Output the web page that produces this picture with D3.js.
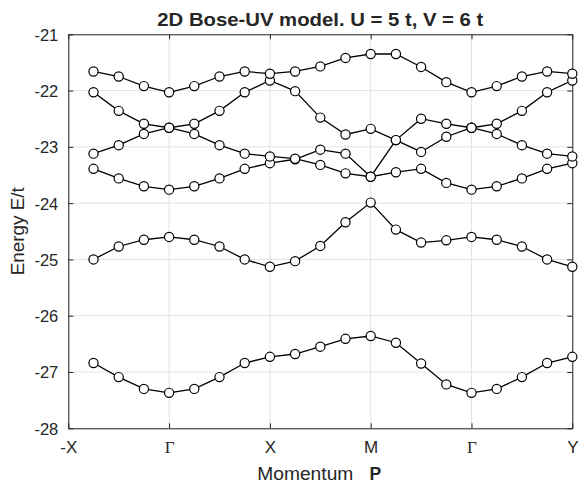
<!DOCTYPE html>
<html>
<head>
<meta charset="utf-8">
<script src="https://cdn.jsdelivr.net/npm/d3@7"></script>
<style>
  html, body { margin: 0; padding: 0; background: #fff; }
  svg { display: block; }
  text { font-family: "Liberation Sans", Arial, Helvetica, sans-serif; fill: #262626; }
</style>
</head>
<body>
<svg id="chart" width="579" height="483"></svg>
<script>
// momentum path sample index (0 = -X ... 20 = Y)
const momentumIndex = [1,2,3,4,5,6,7,8,9,10,11,12,13,14,15,16,17,18,19,20];
const tickPositions = [0, 4, 8, 12, 16, 20];
const tickLabels = ["-X", "\u0393", "X", "M", "\u0393", "Y"];
const yTicks = [-28, -27, -26, -25, -24, -23, -22, -21];

const band1 = [-21.66,-21.75,-21.92,-22.03,-21.92,-21.75,-21.66,-21.70,-21.66,-21.57,-21.42,-21.35,-21.35,-21.58,-21.85,-22.03,-21.92,-21.75,-21.66,-21.70];
const band2 = [-23.12,-22.97,-22.77,-22.66,-22.59,-22.36,-22.03,-21.82,-22.01,-22.48,-22.78,-22.68,-22.88,-23.09,-22.82,-22.66,-22.59,-22.36,-22.03,-21.82];
const band3 = [-22.03,-22.36,-22.59,-22.66,-22.77,-22.97,-23.12,-23.17,-23.21,-23.32,-23.47,-23.53,-22.88,-22.50,-22.59,-22.66,-22.77,-22.97,-23.12,-23.17];
const band4 = [-23.39,-23.56,-23.70,-23.76,-23.70,-23.56,-23.39,-23.29,-23.22,-23.05,-23.12,-23.53,-23.45,-23.39,-23.64,-23.76,-23.70,-23.56,-23.39,-23.29];
const band5 = [-25.00,-24.77,-24.65,-24.60,-24.65,-24.77,-25.00,-25.13,-25.03,-24.76,-24.34,-23.99,-24.47,-24.70,-24.66,-24.60,-24.65,-24.77,-25.00,-25.13];
const band6 = [-26.84,-27.09,-27.30,-27.37,-27.30,-27.09,-26.84,-26.73,-26.68,-26.55,-26.41,-26.36,-26.48,-26.85,-27.22,-27.37,-27.30,-27.09,-26.84,-26.73];
const bands = [band6, band5, band4, band3, band2, band1];

const svg = d3.select("#chart");
const L = 68.3, R = 572.3, T = 34.3, B = 428.3;
const x = d3.scaleLinear().domain([0, 20]).range([L, R]);
const y = d3.scaleLinear().domain([-28, -21]).range([B, T]);
const axisColor = "#262626";
const gridColor = "#e3e3e3";

// grid
const grid = svg.append("g");
grid.selectAll("line.gx").data(tickPositions).join("line")
  .attr("x1", d => x(d)).attr("x2", d => x(d)).attr("y1", T).attr("y2", B)
  .attr("stroke", gridColor).attr("stroke-width", 1);
grid.selectAll("line.gy").data(yTicks).join("line")
  .attr("x1", L).attr("x2", R).attr("y1", d => y(d)).attr("y2", d => y(d))
  .attr("stroke", gridColor).attr("stroke-width", 1);

// axes
const xAxisB = d3.axisBottom(x).tickValues(tickPositions).tickFormat((d, i) => tickLabels[i]).tickSizeInner(-5).tickSizeOuter(0).tickPadding(10);
const xAxisT = d3.axisTop(x).tickValues(tickPositions).tickFormat("").tickSizeInner(-5).tickSizeOuter(0);
const yAxisL = d3.axisLeft(y).tickValues(yTicks).tickFormat(d => String(d)).tickSizeInner(-5).tickSizeOuter(0).tickPadding(10);
const yAxisR = d3.axisRight(y).tickValues(yTicks).tickFormat("").tickSizeInner(-5).tickSizeOuter(0);

function styleAxis(g) {
  g.select(".domain").attr("stroke", axisColor).attr("stroke-width", 1);
  g.selectAll(".tick line").attr("stroke", axisColor).attr("stroke-width", 1);
  g.selectAll(".tick text").attr("fill", axisColor).style("font-family", "'Liberation Sans', Arial, sans-serif");
}
const gxb = svg.append("g").attr("transform", `translate(0,${B})`).call(xAxisB).call(styleAxis);
gxb.selectAll(".tick text").attr("font-size", 17).attr("dy", null).attr("y", 25)
  .style("font-family", (d, i) => (i === 1 || i === 4) ? "'Liberation Serif', 'Times New Roman', serif" : "'Liberation Sans', Arial, sans-serif");
svg.append("g").attr("transform", `translate(0,${T})`).call(xAxisT).call(styleAxis);
const gyl = svg.append("g").attr("transform", `translate(${L},0)`).call(yAxisL).call(styleAxis);
gyl.selectAll(".tick text").attr("font-size", 16.5).attr("dy", "0.36em").attr("x", -10);
svg.append("g").attr("transform", `translate(${R},0)`).call(yAxisR).call(styleAxis);

// series
const line = d3.line().x((d, i) => x(momentumIndex[i])).y(d => y(d));
bands.forEach(b => {
  const g = svg.append("g");
  g.append("path").datum(b).attr("d", line)
    .attr("fill", "none").attr("stroke", "#000").attr("stroke-width", 1.3);
  g.selectAll("circle").data(b).join("circle")
    .attr("cx", (d, i) => x(momentumIndex[i])).attr("cy", d => y(d)).attr("r", 4.6)
    .attr("fill", "#fff").attr("stroke", "#000").attr("stroke-width", 1.2);
});

// title
svg.append("text").attr("x", (L + R) / 2).attr("y", 26).attr("text-anchor", "middle")
  .attr("font-size", 17.5).attr("font-weight", "bold").attr("fill", "#000")
  .attr("textLength", 326).attr("lengthAdjust", "spacingAndGlyphs")
  .text("2D Bose-UV model. U = 5 t, V = 6 t");

// x label
svg.append("text").attr("x", 257.3).attr("y", 480).attr("font-size", 17.5).attr("fill", axisColor)
  .attr("textLength", 96).attr("lengthAdjust", "spacingAndGlyphs").text("Momentum");
svg.append("text").attr("x", 369.5).attr("y", 480).attr("font-size", 17.5).attr("font-weight", "bold").attr("fill", axisColor)
  .text("P");

// y label
svg.append("text").attr("transform", `translate(24,${(T + B) / 2}) rotate(-90)`)
  .attr("text-anchor", "middle").attr("font-size", 17.5).attr("fill", axisColor)
  .attr("textLength", 88).attr("lengthAdjust", "spacingAndGlyphs")
  .text("Energy E/t");
</script>
</body>
</html>
